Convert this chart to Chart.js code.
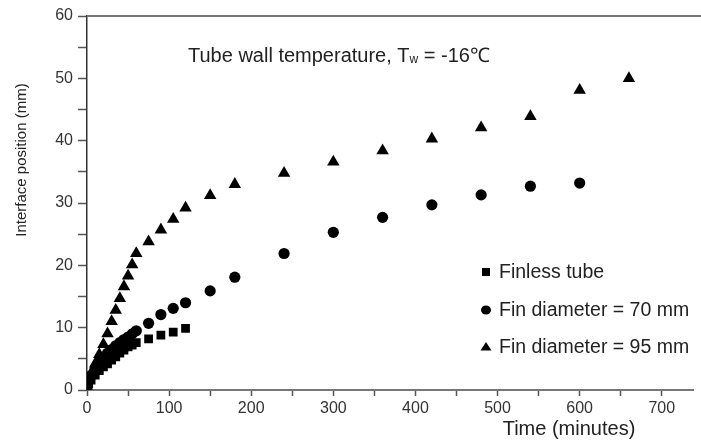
<!DOCTYPE html>
<html>
<head>
<meta charset="utf-8">
<script src="https://cdn.jsdelivr.net/npm/chart.js@4/dist/chart.umd.min.js"></script>
<style>
  html, body { margin: 0; padding: 0; background: #fff; }
  #wrap { width: 701px; height: 442px; }
</style>
</head>
<body>
<div id="wrap"><canvas id="chart" width="701" height="442"></canvas></div>
<script>
// time in minutes, interface position in mm
const finlessTime = [0, 2, 5, 10, 15, 20, 25, 30, 35, 40, 45, 50, 55, 60, 75, 90, 105, 120];
const finlessPos  = [0, 1.0, 1.6, 2.4, 3.1, 3.7, 4.2, 4.8, 5.3, 5.9, 6.4, 6.9, 7.2, 7.6, 8.2, 8.8, 9.3, 9.9];

const fin70Time = [0, 2, 5, 10, 15, 20, 25, 30, 35, 40, 45, 50, 55, 60, 75, 90, 105, 120, 150, 180, 240, 300, 360, 420, 480, 540, 600];
const fin70Pos  = [0, 1.5, 2.3, 3.4, 4.4, 5.2, 5.9, 6.5, 7.1, 7.6, 8.1, 8.5, 9.0, 9.5, 10.7, 12.1, 13.1, 14.0, 15.9, 18.1, 21.9, 25.3, 27.7, 29.7, 31.3, 32.7, 33.2];

const fin95Time = [0, 2, 5, 10, 15, 20, 25, 30, 35, 40, 45, 50, 55, 60, 75, 90, 105, 120, 150, 180, 240, 300, 360, 420, 480, 540, 600, 660];
const fin95Pos  = [0, 1.6, 2.7, 4.2, 5.7, 7.3, 9.05, 11.0, 12.8, 14.7, 16.6, 18.3, 20.1, 21.9, 23.8, 25.7, 27.4, 29.2, 31.2, 33.0, 34.8, 36.6, 38.4, 40.3, 42.1, 43.9, 48.1, 50.0];

const seriesNames = ['Finless tube', 'Fin diameter = 70 mm', 'Fin diameter = 95 mm'];
const xTickValues = [0, 50, 100, 150, 200, 250, 300, 350, 400, 450, 500, 550, 600, 650, 700];
const yTickValues = [0, 5, 10, 15, 20, 25, 30, 35, 40, 45, 50, 55, 60];

const FONT = '"Liberation Sans", Arial, Helvetica, sans-serif';

function toPoints(xs, ys) {
    return xs.map((x, i) => ({ x: x, y: ys[i] }));
}

// extra texts: annotation, legend, axis titles, top frame line
const extras = {
    id: 'extras',
    afterDraw(chart) {
        const ctx = chart.ctx;
        const area = chart.chartArea;
        ctx.save();

        // top frame
        ctx.strokeStyle = '#777';
        ctx.lineWidth = 2;
        ctx.beginPath();
        ctx.moveTo(area.left, area.top);
        ctx.lineTo(chart.width, area.top);
        ctx.stroke();

        ctx.fillStyle = '#222';
        ctx.textBaseline = 'alphabetic';
        ctx.textAlign = 'left';

        // annotation with subscript
        let x = 188, y = 62;
        ctx.font = '20px ' + FONT;
        let s = 'Tube wall temperature, T';
        ctx.fillText(s, x, y);
        x += ctx.measureText(s).width;
        ctx.font = '12px ' + FONT;
        ctx.fillText('w', x, y + 1);
        x += ctx.measureText('w').width;
        ctx.font = '20px ' + FONT;
        ctx.fillText(' = -16\u2103', x, y);

        // legend
        const rows = [272, 310, 347];
        const styles = ['rect', 'circle', 'triangle'];
        ctx.textBaseline = 'middle';
        ctx.font = '19.5px ' + FONT;
        for (let i = 0; i < 3; i++) {
            const my = rows[i], mx = 486;
            ctx.fillStyle = '#000';
            ctx.beginPath();
            if (styles[i] === 'rect') {
                ctx.rect(mx - 4, my - 4, 8, 8);
            } else if (styles[i] === 'circle') {
                ctx.ellipse(mx, my, 5, 4.5, 0, 0, Math.PI * 2);
            } else {
                ctx.moveTo(mx, my - 5);
                ctx.lineTo(mx + 5.5, my + 3.5);
                ctx.lineTo(mx - 5.5, my + 3.5);
                ctx.closePath();
            }
            ctx.fill();
            ctx.fillStyle = '#222';
            ctx.fillText(seriesNames[i], 499, my + 1);
        }

        // axis titles
        ctx.font = '20px ' + FONT;
        ctx.textAlign = 'center';
        ctx.fillText('Time (minutes)', 569, 429);

        ctx.save();
        ctx.translate(22, 160);
        ctx.rotate(-Math.PI / 2);
        ctx.font = '15px ' + FONT;
        ctx.fillText('Interface position (mm)', 0, 0);
        ctx.restore();

        ctx.restore();
    }
};

new Chart(document.getElementById('chart'), {
    type: 'scatter',
    data: {
        datasets: [
            {
                label: seriesNames[0],
                data: toPoints(finlessTime, finlessPos),
                pointStyle: 'rect',
                pointRadius: 6.2,
                backgroundColor: '#000',
                borderColor: '#000',
                borderWidth: 0
            },
            {
                label: seriesNames[1],
                data: toPoints(fin70Time, fin70Pos),
                pointStyle: 'circle',
                pointRadius: 5.6,
                backgroundColor: '#000',
                borderColor: '#000',
                borderWidth: 0
            },
            {
                label: seriesNames[2],
                data: toPoints(fin95Time, fin95Pos),
                pointStyle: 'triangle',
                pointRadius: 7.2,
                backgroundColor: '#000',
                borderColor: '#000',
                borderWidth: 0
            }
        ]
    },
    options: {
        responsive: false,
        animation: false,
        layout: { padding: { top: 16, left: 0, right: 0, bottom: 0 } },
        plugins: {
            legend: { display: false },
            tooltip: { enabled: false }
        },
        scales: {
            x: {
                type: 'linear',
                min: 0,
                max: 739,
                afterBuildTicks: (scale) => {
                    scale.ticks = xTickValues.map(v => ({ value: v }));
                },
                afterFit: (scale) => { scale.height = 52; },
                ticks: {
                    autoSkip: false,
                    maxRotation: 0,
                    padding: 3,
                    color: '#333',
                    font: { family: FONT, size: 16 },
                    callback: (v) => (v % 100 === 0 ? v : '')
                },
                grid: {
                    drawOnChartArea: false,
                    tickLength: 6,
                    tickWidth: 1.5,
                    tickColor: '#555'
                },
                border: { display: true, color: '#777', width: 2 }
            },
            y: {
                min: 0,
                max: 60,
                afterBuildTicks: (scale) => {
                    scale.ticks = yTickValues.map(v => ({ value: v }));
                },
                afterFit: (scale) => { scale.width = 87; },
                ticks: {
                    autoSkip: false,
                    padding: 5,
                    color: '#333',
                    font: { family: FONT, size: 16 },
                    callback: (v) => (v % 10 === 0 ? v : '')
                },
                grid: {
                    drawOnChartArea: false,
                    tickLength: 9,
                    tickWidth: 1.5,
                    tickColor: '#555'
                },
                border: { display: true, color: '#333', width: 1.5 }
            }
        }
    },
    plugins: [extras]
});
</script>
</body>
</html>
